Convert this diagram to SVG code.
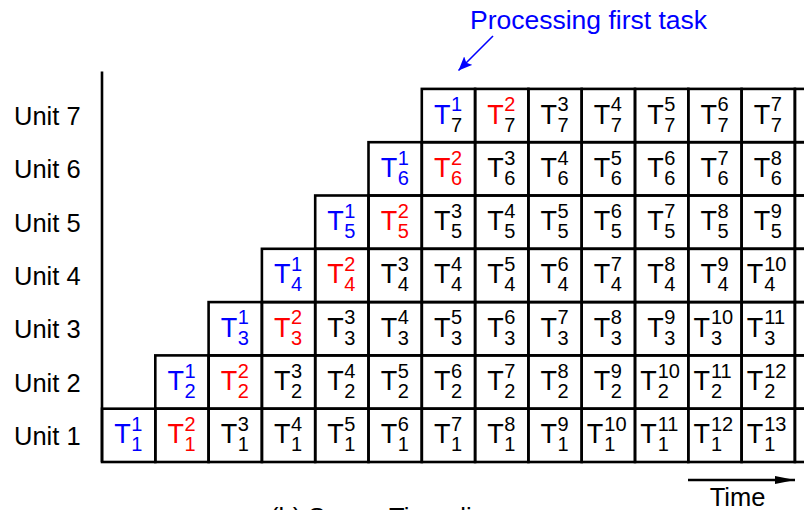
<svg xmlns="http://www.w3.org/2000/svg" width="804" height="510" viewBox="0 0 804 510">
<style>
text{font-family:"Liberation Sans",Arial,sans-serif}
.c{fill:none;stroke:#000;stroke-width:2.6}
.t{font-size:27px}
.d{font-size:20px}
.lbl{font-size:25.5px;fill:#000}
.b{fill:#0000ff}
.r{fill:#ff0000}
.k{fill:#000}
</style>
<defs>
<marker id="ahB" markerUnits="userSpaceOnUse" markerWidth="16" markerHeight="12" refX="14" refY="6" orient="auto">
<path d="M0,0 L14,6 L0,12 L3,6 z" fill="#0000ff"/>
</marker>
<marker id="ahK" markerUnits="userSpaceOnUse" markerWidth="22" markerHeight="10" refX="20" refY="5" orient="auto">
<path d="M0,1 L20,5 L0,9 z" fill="#000"/>
</marker>
</defs>
<rect width="804" height="510" fill="#fff"/>

<g id="labels">
<text class="lbl" x="14" y="125">Unit 7</text>
<text class="lbl" x="14" y="178.4">Unit 6</text>
<text class="lbl" x="14" y="231.7">Unit 5</text>
<text class="lbl" x="14" y="285">Unit 4</text>
<text class="lbl" x="14" y="338.3">Unit 3</text>
<text class="lbl" x="14" y="391.6">Unit 2</text>
<text class="lbl" x="14" y="444.9">Unit 1</text>
<text x="470" y="29" style="font-size:26.5px;fill:#0000ff">Processing first task</text>
<text class="lbl" x="737.5" y="506" text-anchor="middle">Time</text>
<text class="lbl" x="270" y="526">(b) Space-Time diagram</text>
</g>

<g id="grid">
<line x1="102" y1="71.5" x2="102" y2="462" stroke="#000" stroke-width="2.6"/>
<rect class="c" x="794.9" y="408.7" width="53.3" height="53.3"/>
<rect class="c" x="794.9" y="355.4" width="53.3" height="53.3"/>
<rect class="c" x="794.9" y="302.1" width="53.3" height="53.3"/>
<rect class="c" x="794.9" y="248.8" width="53.3" height="53.3"/>
<rect class="c" x="794.9" y="195.5" width="53.3" height="53.3"/>
<rect class="c" x="794.9" y="142.2" width="53.3" height="53.3"/>
<rect class="c" x="794.9" y="88.9" width="53.3" height="53.3"/>
</g>

<g id="connectors">
<line x1="493" y1="36" x2="458.5" y2="70.5" stroke="#0000ff" stroke-width="1.6" marker-end="url(#ahB)"/>
<line x1="688" y1="480" x2="795" y2="480" stroke="#000" stroke-width="2.6" marker-end="url(#ahK)"/>
</g>

<!-- Unit 1 -->
<g id="u1-1" transform="translate(128.65,435.35)"><rect class="c" x="-26.65" y="-26.65" width="53.3" height="53.3"/><text class="t b" x="2" y="8" text-anchor="end">T</text><text class="d b" x="2.5" y="-4.3">1</text><text class="d b" x="2.5" y="16">1</text></g>
<g id="u1-2" transform="translate(181.95,435.35)"><rect class="c" x="-26.65" y="-26.65" width="53.3" height="53.3"/><text class="t r" x="2" y="8" text-anchor="end">T</text><text class="d r" x="2.5" y="-4.3">2</text><text class="d r" x="2.5" y="16">1</text></g>
<g id="u1-3" transform="translate(235.25,435.35)"><rect class="c" x="-26.65" y="-26.65" width="53.3" height="53.3"/><text class="t k" x="2" y="8" text-anchor="end">T</text><text class="d k" x="2.5" y="-4.3">3</text><text class="d k" x="2.5" y="16">1</text></g>
<g id="u1-4" transform="translate(288.55,435.35)"><rect class="c" x="-26.65" y="-26.65" width="53.3" height="53.3"/><text class="t k" x="2" y="8" text-anchor="end">T</text><text class="d k" x="2.5" y="-4.3">4</text><text class="d k" x="2.5" y="16">1</text></g>
<g id="u1-5" transform="translate(341.85,435.35)"><rect class="c" x="-26.65" y="-26.65" width="53.3" height="53.3"/><text class="t k" x="2" y="8" text-anchor="end">T</text><text class="d k" x="2.5" y="-4.3">5</text><text class="d k" x="2.5" y="16">1</text></g>
<g id="u1-6" transform="translate(395.15,435.35)"><rect class="c" x="-26.65" y="-26.65" width="53.3" height="53.3"/><text class="t k" x="2" y="8" text-anchor="end">T</text><text class="d k" x="2.5" y="-4.3">6</text><text class="d k" x="2.5" y="16">1</text></g>
<g id="u1-7" transform="translate(448.45,435.35)"><rect class="c" x="-26.65" y="-26.65" width="53.3" height="53.3"/><text class="t k" x="2" y="8" text-anchor="end">T</text><text class="d k" x="2.5" y="-4.3">7</text><text class="d k" x="2.5" y="16">1</text></g>
<g id="u1-8" transform="translate(501.75,435.35)"><rect class="c" x="-26.65" y="-26.65" width="53.3" height="53.3"/><text class="t k" x="2" y="8" text-anchor="end">T</text><text class="d k" x="2.5" y="-4.3">8</text><text class="d k" x="2.5" y="16">1</text></g>
<g id="u1-9" transform="translate(555.05,435.35)"><rect class="c" x="-26.65" y="-26.65" width="53.3" height="53.3"/><text class="t k" x="2" y="8" text-anchor="end">T</text><text class="d k" x="2.5" y="-4.3">9</text><text class="d k" x="2.5" y="16">1</text></g>
<g id="u1-10" transform="translate(608.35,435.35)"><rect class="c" x="-26.65" y="-26.65" width="53.3" height="53.3"/><text class="t k" x="-5" y="8" text-anchor="end">T</text><text class="d k" x="-4" y="-4.3">10</text><text class="d k" x="-4" y="16">1</text></g>
<g id="u1-11" transform="translate(661.65,435.35)"><rect class="c" x="-26.65" y="-26.65" width="53.3" height="53.3"/><text class="t k" x="-5" y="8" text-anchor="end">T</text><text class="d k" x="-4" y="-4.3">11</text><text class="d k" x="-4" y="16">1</text></g>
<g id="u1-12" transform="translate(714.95,435.35)"><rect class="c" x="-26.65" y="-26.65" width="53.3" height="53.3"/><text class="t k" x="-5" y="8" text-anchor="end">T</text><text class="d k" x="-4" y="-4.3">12</text><text class="d k" x="-4" y="16">1</text></g>
<g id="u1-13" transform="translate(768.25,435.35)"><rect class="c" x="-26.65" y="-26.65" width="53.3" height="53.3"/><text class="t k" x="-5" y="8" text-anchor="end">T</text><text class="d k" x="-4" y="-4.3">13</text><text class="d k" x="-4" y="16">1</text></g>

<!-- Unit 2 -->
<g id="u2-1" transform="translate(181.95,382.05)"><rect class="c" x="-26.65" y="-26.65" width="53.3" height="53.3"/><text class="t b" x="2" y="8" text-anchor="end">T</text><text class="d b" x="2.5" y="-4.3">1</text><text class="d b" x="2.5" y="16">2</text></g>
<g id="u2-2" transform="translate(235.25,382.05)"><rect class="c" x="-26.65" y="-26.65" width="53.3" height="53.3"/><text class="t r" x="2" y="8" text-anchor="end">T</text><text class="d r" x="2.5" y="-4.3">2</text><text class="d r" x="2.5" y="16">2</text></g>
<g id="u2-3" transform="translate(288.55,382.05)"><rect class="c" x="-26.65" y="-26.65" width="53.3" height="53.3"/><text class="t k" x="2" y="8" text-anchor="end">T</text><text class="d k" x="2.5" y="-4.3">3</text><text class="d k" x="2.5" y="16">2</text></g>
<g id="u2-4" transform="translate(341.85,382.05)"><rect class="c" x="-26.65" y="-26.65" width="53.3" height="53.3"/><text class="t k" x="2" y="8" text-anchor="end">T</text><text class="d k" x="2.5" y="-4.3">4</text><text class="d k" x="2.5" y="16">2</text></g>
<g id="u2-5" transform="translate(395.15,382.05)"><rect class="c" x="-26.65" y="-26.65" width="53.3" height="53.3"/><text class="t k" x="2" y="8" text-anchor="end">T</text><text class="d k" x="2.5" y="-4.3">5</text><text class="d k" x="2.5" y="16">2</text></g>
<g id="u2-6" transform="translate(448.45,382.05)"><rect class="c" x="-26.65" y="-26.65" width="53.3" height="53.3"/><text class="t k" x="2" y="8" text-anchor="end">T</text><text class="d k" x="2.5" y="-4.3">6</text><text class="d k" x="2.5" y="16">2</text></g>
<g id="u2-7" transform="translate(501.75,382.05)"><rect class="c" x="-26.65" y="-26.65" width="53.3" height="53.3"/><text class="t k" x="2" y="8" text-anchor="end">T</text><text class="d k" x="2.5" y="-4.3">7</text><text class="d k" x="2.5" y="16">2</text></g>
<g id="u2-8" transform="translate(555.05,382.05)"><rect class="c" x="-26.65" y="-26.65" width="53.3" height="53.3"/><text class="t k" x="2" y="8" text-anchor="end">T</text><text class="d k" x="2.5" y="-4.3">8</text><text class="d k" x="2.5" y="16">2</text></g>
<g id="u2-9" transform="translate(608.35,382.05)"><rect class="c" x="-26.65" y="-26.65" width="53.3" height="53.3"/><text class="t k" x="2" y="8" text-anchor="end">T</text><text class="d k" x="2.5" y="-4.3">9</text><text class="d k" x="2.5" y="16">2</text></g>
<g id="u2-10" transform="translate(661.65,382.05)"><rect class="c" x="-26.65" y="-26.65" width="53.3" height="53.3"/><text class="t k" x="-5" y="8" text-anchor="end">T</text><text class="d k" x="-4" y="-4.3">10</text><text class="d k" x="-4" y="16">2</text></g>
<g id="u2-11" transform="translate(714.95,382.05)"><rect class="c" x="-26.65" y="-26.65" width="53.3" height="53.3"/><text class="t k" x="-5" y="8" text-anchor="end">T</text><text class="d k" x="-4" y="-4.3">11</text><text class="d k" x="-4" y="16">2</text></g>
<g id="u2-12" transform="translate(768.25,382.05)"><rect class="c" x="-26.65" y="-26.65" width="53.3" height="53.3"/><text class="t k" x="-5" y="8" text-anchor="end">T</text><text class="d k" x="-4" y="-4.3">12</text><text class="d k" x="-4" y="16">2</text></g>

<!-- Unit 3 -->
<g id="u3-1" transform="translate(235.25,328.75)"><rect class="c" x="-26.65" y="-26.65" width="53.3" height="53.3"/><text class="t b" x="2" y="8" text-anchor="end">T</text><text class="d b" x="2.5" y="-4.3">1</text><text class="d b" x="2.5" y="16">3</text></g>
<g id="u3-2" transform="translate(288.55,328.75)"><rect class="c" x="-26.65" y="-26.65" width="53.3" height="53.3"/><text class="t r" x="2" y="8" text-anchor="end">T</text><text class="d r" x="2.5" y="-4.3">2</text><text class="d r" x="2.5" y="16">3</text></g>
<g id="u3-3" transform="translate(341.85,328.75)"><rect class="c" x="-26.65" y="-26.65" width="53.3" height="53.3"/><text class="t k" x="2" y="8" text-anchor="end">T</text><text class="d k" x="2.5" y="-4.3">3</text><text class="d k" x="2.5" y="16">3</text></g>
<g id="u3-4" transform="translate(395.15,328.75)"><rect class="c" x="-26.65" y="-26.65" width="53.3" height="53.3"/><text class="t k" x="2" y="8" text-anchor="end">T</text><text class="d k" x="2.5" y="-4.3">4</text><text class="d k" x="2.5" y="16">3</text></g>
<g id="u3-5" transform="translate(448.45,328.75)"><rect class="c" x="-26.65" y="-26.65" width="53.3" height="53.3"/><text class="t k" x="2" y="8" text-anchor="end">T</text><text class="d k" x="2.5" y="-4.3">5</text><text class="d k" x="2.5" y="16">3</text></g>
<g id="u3-6" transform="translate(501.75,328.75)"><rect class="c" x="-26.65" y="-26.65" width="53.3" height="53.3"/><text class="t k" x="2" y="8" text-anchor="end">T</text><text class="d k" x="2.5" y="-4.3">6</text><text class="d k" x="2.5" y="16">3</text></g>
<g id="u3-7" transform="translate(555.05,328.75)"><rect class="c" x="-26.65" y="-26.65" width="53.3" height="53.3"/><text class="t k" x="2" y="8" text-anchor="end">T</text><text class="d k" x="2.5" y="-4.3">7</text><text class="d k" x="2.5" y="16">3</text></g>
<g id="u3-8" transform="translate(608.35,328.75)"><rect class="c" x="-26.65" y="-26.65" width="53.3" height="53.3"/><text class="t k" x="2" y="8" text-anchor="end">T</text><text class="d k" x="2.5" y="-4.3">8</text><text class="d k" x="2.5" y="16">3</text></g>
<g id="u3-9" transform="translate(661.65,328.75)"><rect class="c" x="-26.65" y="-26.65" width="53.3" height="53.3"/><text class="t k" x="2" y="8" text-anchor="end">T</text><text class="d k" x="2.5" y="-4.3">9</text><text class="d k" x="2.5" y="16">3</text></g>
<g id="u3-10" transform="translate(714.95,328.75)"><rect class="c" x="-26.65" y="-26.65" width="53.3" height="53.3"/><text class="t k" x="-5" y="8" text-anchor="end">T</text><text class="d k" x="-4" y="-4.3">10</text><text class="d k" x="-4" y="16">3</text></g>
<g id="u3-11" transform="translate(768.25,328.75)"><rect class="c" x="-26.65" y="-26.65" width="53.3" height="53.3"/><text class="t k" x="-5" y="8" text-anchor="end">T</text><text class="d k" x="-4" y="-4.3">11</text><text class="d k" x="-4" y="16">3</text></g>

<!-- Unit 4 -->
<g id="u4-1" transform="translate(288.55,275.45)"><rect class="c" x="-26.65" y="-26.65" width="53.3" height="53.3"/><text class="t b" x="2" y="8" text-anchor="end">T</text><text class="d b" x="2.5" y="-4.3">1</text><text class="d b" x="2.5" y="16">4</text></g>
<g id="u4-2" transform="translate(341.85,275.45)"><rect class="c" x="-26.65" y="-26.65" width="53.3" height="53.3"/><text class="t r" x="2" y="8" text-anchor="end">T</text><text class="d r" x="2.5" y="-4.3">2</text><text class="d r" x="2.5" y="16">4</text></g>
<g id="u4-3" transform="translate(395.15,275.45)"><rect class="c" x="-26.65" y="-26.65" width="53.3" height="53.3"/><text class="t k" x="2" y="8" text-anchor="end">T</text><text class="d k" x="2.5" y="-4.3">3</text><text class="d k" x="2.5" y="16">4</text></g>
<g id="u4-4" transform="translate(448.45,275.45)"><rect class="c" x="-26.65" y="-26.65" width="53.3" height="53.3"/><text class="t k" x="2" y="8" text-anchor="end">T</text><text class="d k" x="2.5" y="-4.3">4</text><text class="d k" x="2.5" y="16">4</text></g>
<g id="u4-5" transform="translate(501.75,275.45)"><rect class="c" x="-26.65" y="-26.65" width="53.3" height="53.3"/><text class="t k" x="2" y="8" text-anchor="end">T</text><text class="d k" x="2.5" y="-4.3">5</text><text class="d k" x="2.5" y="16">4</text></g>
<g id="u4-6" transform="translate(555.05,275.45)"><rect class="c" x="-26.65" y="-26.65" width="53.3" height="53.3"/><text class="t k" x="2" y="8" text-anchor="end">T</text><text class="d k" x="2.5" y="-4.3">6</text><text class="d k" x="2.5" y="16">4</text></g>
<g id="u4-7" transform="translate(608.35,275.45)"><rect class="c" x="-26.65" y="-26.65" width="53.3" height="53.3"/><text class="t k" x="2" y="8" text-anchor="end">T</text><text class="d k" x="2.5" y="-4.3">7</text><text class="d k" x="2.5" y="16">4</text></g>
<g id="u4-8" transform="translate(661.65,275.45)"><rect class="c" x="-26.65" y="-26.65" width="53.3" height="53.3"/><text class="t k" x="2" y="8" text-anchor="end">T</text><text class="d k" x="2.5" y="-4.3">8</text><text class="d k" x="2.5" y="16">4</text></g>
<g id="u4-9" transform="translate(714.95,275.45)"><rect class="c" x="-26.65" y="-26.65" width="53.3" height="53.3"/><text class="t k" x="2" y="8" text-anchor="end">T</text><text class="d k" x="2.5" y="-4.3">9</text><text class="d k" x="2.5" y="16">4</text></g>
<g id="u4-10" transform="translate(768.25,275.45)"><rect class="c" x="-26.65" y="-26.65" width="53.3" height="53.3"/><text class="t k" x="-5" y="8" text-anchor="end">T</text><text class="d k" x="-4" y="-4.3">10</text><text class="d k" x="-4" y="16">4</text></g>

<!-- Unit 5 -->
<g id="u5-1" transform="translate(341.85,222.15)"><rect class="c" x="-26.65" y="-26.65" width="53.3" height="53.3"/><text class="t b" x="2" y="8" text-anchor="end">T</text><text class="d b" x="2.5" y="-4.3">1</text><text class="d b" x="2.5" y="16">5</text></g>
<g id="u5-2" transform="translate(395.15,222.15)"><rect class="c" x="-26.65" y="-26.65" width="53.3" height="53.3"/><text class="t r" x="2" y="8" text-anchor="end">T</text><text class="d r" x="2.5" y="-4.3">2</text><text class="d r" x="2.5" y="16">5</text></g>
<g id="u5-3" transform="translate(448.45,222.15)"><rect class="c" x="-26.65" y="-26.65" width="53.3" height="53.3"/><text class="t k" x="2" y="8" text-anchor="end">T</text><text class="d k" x="2.5" y="-4.3">3</text><text class="d k" x="2.5" y="16">5</text></g>
<g id="u5-4" transform="translate(501.75,222.15)"><rect class="c" x="-26.65" y="-26.65" width="53.3" height="53.3"/><text class="t k" x="2" y="8" text-anchor="end">T</text><text class="d k" x="2.5" y="-4.3">4</text><text class="d k" x="2.5" y="16">5</text></g>
<g id="u5-5" transform="translate(555.05,222.15)"><rect class="c" x="-26.65" y="-26.65" width="53.3" height="53.3"/><text class="t k" x="2" y="8" text-anchor="end">T</text><text class="d k" x="2.5" y="-4.3">5</text><text class="d k" x="2.5" y="16">5</text></g>
<g id="u5-6" transform="translate(608.35,222.15)"><rect class="c" x="-26.65" y="-26.65" width="53.3" height="53.3"/><text class="t k" x="2" y="8" text-anchor="end">T</text><text class="d k" x="2.5" y="-4.3">6</text><text class="d k" x="2.5" y="16">5</text></g>
<g id="u5-7" transform="translate(661.65,222.15)"><rect class="c" x="-26.65" y="-26.65" width="53.3" height="53.3"/><text class="t k" x="2" y="8" text-anchor="end">T</text><text class="d k" x="2.5" y="-4.3">7</text><text class="d k" x="2.5" y="16">5</text></g>
<g id="u5-8" transform="translate(714.95,222.15)"><rect class="c" x="-26.65" y="-26.65" width="53.3" height="53.3"/><text class="t k" x="2" y="8" text-anchor="end">T</text><text class="d k" x="2.5" y="-4.3">8</text><text class="d k" x="2.5" y="16">5</text></g>
<g id="u5-9" transform="translate(768.25,222.15)"><rect class="c" x="-26.65" y="-26.65" width="53.3" height="53.3"/><text class="t k" x="2" y="8" text-anchor="end">T</text><text class="d k" x="2.5" y="-4.3">9</text><text class="d k" x="2.5" y="16">5</text></g>

<!-- Unit 6 -->
<g id="u6-1" transform="translate(395.15,168.85)"><rect class="c" x="-26.65" y="-26.65" width="53.3" height="53.3"/><text class="t b" x="2" y="8" text-anchor="end">T</text><text class="d b" x="2.5" y="-4.3">1</text><text class="d b" x="2.5" y="16">6</text></g>
<g id="u6-2" transform="translate(448.45,168.85)"><rect class="c" x="-26.65" y="-26.65" width="53.3" height="53.3"/><text class="t r" x="2" y="8" text-anchor="end">T</text><text class="d r" x="2.5" y="-4.3">2</text><text class="d r" x="2.5" y="16">6</text></g>
<g id="u6-3" transform="translate(501.75,168.85)"><rect class="c" x="-26.65" y="-26.65" width="53.3" height="53.3"/><text class="t k" x="2" y="8" text-anchor="end">T</text><text class="d k" x="2.5" y="-4.3">3</text><text class="d k" x="2.5" y="16">6</text></g>
<g id="u6-4" transform="translate(555.05,168.85)"><rect class="c" x="-26.65" y="-26.65" width="53.3" height="53.3"/><text class="t k" x="2" y="8" text-anchor="end">T</text><text class="d k" x="2.5" y="-4.3">4</text><text class="d k" x="2.5" y="16">6</text></g>
<g id="u6-5" transform="translate(608.35,168.85)"><rect class="c" x="-26.65" y="-26.65" width="53.3" height="53.3"/><text class="t k" x="2" y="8" text-anchor="end">T</text><text class="d k" x="2.5" y="-4.3">5</text><text class="d k" x="2.5" y="16">6</text></g>
<g id="u6-6" transform="translate(661.65,168.85)"><rect class="c" x="-26.65" y="-26.65" width="53.3" height="53.3"/><text class="t k" x="2" y="8" text-anchor="end">T</text><text class="d k" x="2.5" y="-4.3">6</text><text class="d k" x="2.5" y="16">6</text></g>
<g id="u6-7" transform="translate(714.95,168.85)"><rect class="c" x="-26.65" y="-26.65" width="53.3" height="53.3"/><text class="t k" x="2" y="8" text-anchor="end">T</text><text class="d k" x="2.5" y="-4.3">7</text><text class="d k" x="2.5" y="16">6</text></g>
<g id="u6-8" transform="translate(768.25,168.85)"><rect class="c" x="-26.65" y="-26.65" width="53.3" height="53.3"/><text class="t k" x="2" y="8" text-anchor="end">T</text><text class="d k" x="2.5" y="-4.3">8</text><text class="d k" x="2.5" y="16">6</text></g>

<!-- Unit 7 -->
<g id="u7-1" transform="translate(448.45,115.55)"><rect class="c" x="-26.65" y="-26.65" width="53.3" height="53.3"/><text class="t b" x="2" y="8" text-anchor="end">T</text><text class="d b" x="2.5" y="-4.3">1</text><text class="d k" x="2.5" y="16">7</text></g>
<g id="u7-2" transform="translate(501.75,115.55)"><rect class="c" x="-26.65" y="-26.65" width="53.3" height="53.3"/><text class="t r" x="2" y="8" text-anchor="end">T</text><text class="d r" x="2.5" y="-4.3">2</text><text class="d k" x="2.5" y="16">7</text></g>
<g id="u7-3" transform="translate(555.05,115.55)"><rect class="c" x="-26.65" y="-26.65" width="53.3" height="53.3"/><text class="t k" x="2" y="8" text-anchor="end">T</text><text class="d k" x="2.5" y="-4.3">3</text><text class="d k" x="2.5" y="16">7</text></g>
<g id="u7-4" transform="translate(608.35,115.55)"><rect class="c" x="-26.65" y="-26.65" width="53.3" height="53.3"/><text class="t k" x="2" y="8" text-anchor="end">T</text><text class="d k" x="2.5" y="-4.3">4</text><text class="d k" x="2.5" y="16">7</text></g>
<g id="u7-5" transform="translate(661.65,115.55)"><rect class="c" x="-26.65" y="-26.65" width="53.3" height="53.3"/><text class="t k" x="2" y="8" text-anchor="end">T</text><text class="d k" x="2.5" y="-4.3">5</text><text class="d k" x="2.5" y="16">7</text></g>
<g id="u7-6" transform="translate(714.95,115.55)"><rect class="c" x="-26.65" y="-26.65" width="53.3" height="53.3"/><text class="t k" x="2" y="8" text-anchor="end">T</text><text class="d k" x="2.5" y="-4.3">6</text><text class="d k" x="2.5" y="16">7</text></g>
<g id="u7-7" transform="translate(768.25,115.55)"><rect class="c" x="-26.65" y="-26.65" width="53.3" height="53.3"/><text class="t k" x="2" y="8" text-anchor="end">T</text><text class="d k" x="2.5" y="-4.3">7</text><text class="d k" x="2.5" y="16">7</text></g>
</svg>
